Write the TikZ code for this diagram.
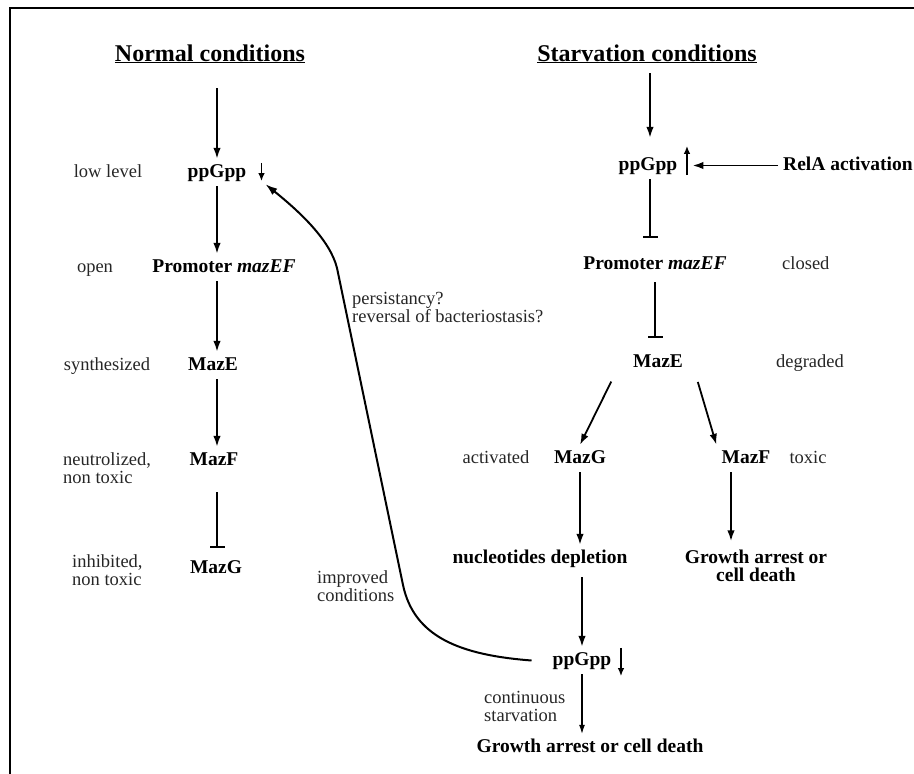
\documentclass[tikz,border=0pt]{standalone}
\usepackage{fontspec}
\setmainfont{Liberation Serif}
\usetikzlibrary{arrows.meta}

\begin{document}
\begin{tikzpicture}[x=1pt, y=-1pt,
    bf/.style={font=\fontsize{19.5}{18}\selectfont\bfseries, inner sep=5pt, anchor=base, align=center},
    ent/.style={bf, text height=13pt, text depth=4pt},
    lbl/.style={font=\fontsize{18.5}{18}\selectfont, text=black!85, inner sep=0pt, anchor=base, align=left},
    head/.style={font=\fontsize{24}{24}\selectfont\bfseries, anchor=base},
    act/.style={-{Latex[length=11pt,width=7.5pt]}, line width=1.8pt},
    inh/.style={-{Bar[width=15pt]}, line width=1.8pt},
    sarr/.style={-{Latex[length=8pt,width=6.5pt]}, line width=1.6pt}]
    \useasboundingbox (0,0) rectangle (914,774);

    % frame (left and top edges only)
    \draw[line width=1.5pt] (10,774) -- (10,8) -- (914,8);

    % headings
    \node[head] (hN) at (210,61) {\underline{Normal conditions}};
    \node[head] (hS) at (647,61) {\underline{Starvation conditions}};

    % normal conditions column
    \coordinate (inL) at (217,88);
    \node[ent] (ppL) at (217,177) {ppGpp};
    \node[ent] (prL) at (224,272) {Promoter \textit{mazEF}};
    \node[ent] (meL) at (213,370) {MazE};
    \node[ent] (mfL) at (214,465) {MazF};
    \node[ent] (mgL) at (216,573) {MazG};

    \node[lbl] (lowL) at (108,177) {low level};
    \node[lbl] (opn) at (95,272) {open};
    \node[lbl] (syn) at (107,370) {synthesized};
    \node[lbl, anchor=base west] (neu) at (63,483) {neutrolized,\\non toxic};
    \node[lbl, anchor=base west] (inb) at (72,585) {inhibited,\\non toxic};

    \draw[act] (inL) -- (ppL.north);
    \draw[act] (ppL.south) -- (ppL.south |- prL.north);
    \draw[act] (ppL.south |- prL.south) -- (ppL.south |- meL.north);
    \draw[act] (ppL.south |- meL.south) -- (ppL.south |- mfL.north);
    \draw[inh, shorten <=18pt, shorten >=7pt] (ppL.south |- mfL.south) -- (ppL.south |- mgL.north);
    \draw[sarr] ([xshift=10pt,yshift=-4pt]ppL.north east) -- ([xshift=10pt,yshift=5pt]ppL.south east);

    % starvation conditions column
    \coordinate (inR) at (650,73);
    \node[ent] (ppR) at (648,170) {ppGpp};
    \node[ent, anchor=base west] (relA) at (778,170) {RelA activation};
    \node[ent] (prR) at (655,269) {Promoter \textit{mazEF}};
    \node[ent] (meR) at (658,367) {MazE};
    \node[ent] (mgR) at (580,463) {MazG};
    \node[ent] (mfR) at (746,463) {MazF};
    \node[ent] (nuc) at (540,563) {nucleotides depletion};
    \node[bf] (grR) at (756,581) {Growth arrest or\\cell death};
    \node[ent] (ppB) at (582,665) {ppGpp};
    \node[ent] (grB) at (590,752) {Growth arrest or cell death};

    \node[lbl, anchor=base west] (cls) at (782,269) {closed};
    \node[lbl] (deg) at (810,367) {degraded};
    \node[lbl] (actv) at (496,463) {activated};
    \node[lbl] (tox) at (808,463) {toxic};
    \node[lbl, anchor=base west] (cont) at (484,721) {continuous\\starvation};

    \draw[act, shorten >=14pt] (inR) -- (inR |- ppR.north);
    \draw[inh, shorten >=13pt] (inR |- ppR.south) -- (inR |- prR.north);
    \draw[inh, shorten <=4pt, shorten >=11pt] (prR.south) -- (prR.south |- meR.north);
    \draw[act, shorten <=6pt] ([xshift=-14pt]meR.south west) -- (mgR.north);
    \draw[act, shorten <=6pt] ([xshift=8pt]meR.south east) -- (mfR.north west);
    \draw[act] (mgR.south) -- (mgR.south |- nuc.north);
    \draw[act] ([xshift=-15pt]mfR.south) -- ([xshift=-15pt,yshift=3pt]mfR.south |- grR.north);
    \draw[act, shorten <=5pt] (ppB.north |- nuc.south) -- (ppB.north);
    \draw[-{Latex[length=9pt,width=6pt]}, line width=1.1pt] (ppB.south) -- (ppB.south |- grB.north);
    \draw[act] (relA.west) -- ([xshift=10pt]ppR.east);
    \draw[sarr] ([xshift=4.5pt,yshift=4pt]ppR.south east) -- ([xshift=4.5pt,yshift=6pt]ppR.north east);
    \draw[sarr] ([xshift=4.5pt,yshift=-1pt]ppB.north east) -- ([xshift=4.5pt,yshift=-2pt]ppB.south east);

    % return path to normal conditions
    \node[lbl, anchor=base west] (per) at (352,322) {persistancy?\\reversal of bacteriostasis?};
    \node[lbl, anchor=base west] (imp) at (317,601) {improved\\conditions};
    \draw[-{Latex[length=12pt,width=8pt]}, line width=2pt] ([xshift=-16pt]ppB.west)
        .. controls (460,655) and (414,637) .. (403,585) -- (337,268)
        .. controls (330,240) and (300,212) .. ([xshift=14pt,yshift=2pt]ppL.south east);

\end{tikzpicture}
\end{document}
